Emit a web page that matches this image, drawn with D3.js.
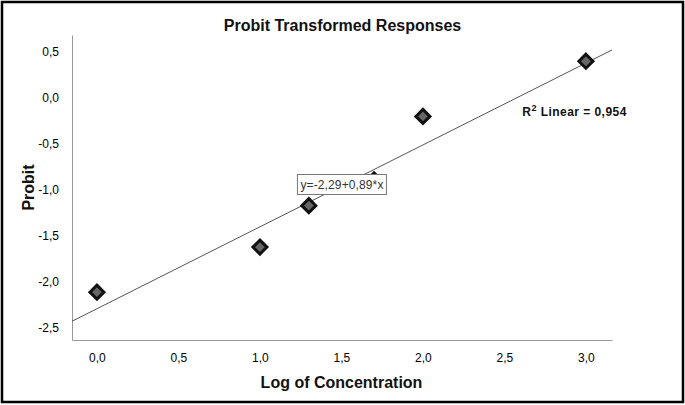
<!DOCTYPE html>
<html>
<head>
<meta charset="utf-8">
<script src="https://cdn.jsdelivr.net/npm/d3@7"></script>
<style>
  body { margin: 0; background: #fff; }
  svg { display: block; font-family: "Liberation Sans", Arial, sans-serif; }
</style>
</head>
<body>
<div id="chart"></div>
<script>
// log concentration vs probit
const logConc = [0.0, 1.0, 1.3, 1.7, 2.0, 3.0];
const probit = [-2.11, -1.62, -1.17, -0.89, -0.20, 0.40];
const xTicks = [0, 0.5, 1, 1.5, 2, 2.5, 3];
const yTicks = [0.5, 0, -0.5, -1, -1.5, -2, -2.5];
const fitIntercept = -2.29;
const fitSlope = 0.89;
const fitLabel = "y=-2,29+0,89*x";
const r2 = "0,954";

const width = 685, height = 405;
const margin = { top: 35, right: 73, bottom: 65, left: 72 };

const fmt = v => d3.format(".1f")(v).replace(".", ",").replace("\u2212", "-");

const svg = d3.select("#chart").append("svg")
    .attr("width", width)
    .attr("height", height);

// outer frame
svg.append("rect")
    .attr("x", 2).attr("y", 2)
    .attr("width", width - 4).attr("height", height - 5)
    .attr("fill", "none")
    .attr("stroke", "#000")
    .attr("stroke-width", 2.5);

let x = d3.scaleLinear()
    .domain([-0.153, 3.16])
    .range([margin.left, width - margin.right]);

let y = d3.scaleLinear()
    .domain([-2.63, 0.685])
    .range([height - margin.bottom, margin.top]);

let xAxis = g => g
    .attr("transform", `translate(0,${height - margin.bottom})`)
    .call(d3.axisBottom(x).tickValues(xTicks).tickFormat(fmt).tickSize(0).tickPadding(13))
    .call(g => g.select(".domain").attr("stroke", "#999"))
    .attr("font-size", 12)
    .attr("font-family", null)
    .call(g => g.selectAll("text").attr("fill", "#000"));

let yAxis = g => g
    .attr("transform", `translate(${margin.left},0)`)
    .call(d3.axisLeft(y).tickValues(yTicks).tickFormat(fmt).tickSize(0).tickPadding(13))
    .call(g => g.select(".domain").attr("stroke", "#999"))
    .attr("font-size", 12)
    .attr("font-family", null)
    .call(g => g.selectAll("text").attr("fill", "#000"));

svg.append("g").call(xAxis);
svg.append("g").call(yAxis);

// fit line across the plot width
const [x0, x1] = x.domain();
svg.append("line")
    .attr("x1", x(x0)).attr("y1", y(fitIntercept + fitSlope * x0))
    .attr("x2", x(x1)).attr("y2", y(fitIntercept + fitSlope * x1))
    .attr("stroke", "#555")
    .attr("stroke-width", 1);

// diamonds
svg.append("g")
    .selectAll("path")
    .data(logConc)
    .join("path")
    .attr("transform", (d, i) => `translate(${x(d)},${y(probit[i])})`)
    .attr("d", "M0,-7L7,0L0,7L-7,0Z")
    .attr("fill", "#666")
    .attr("stroke", "#111")
    .attr("stroke-width", 3);

// equation label
const eq = svg.append("g")
    .attr("transform", `translate(${x(1.23)},${y(-0.94)})`);
eq.append("rect")
    .attr("x", 0).attr("y", -10)
    .attr("width", 89).attr("height", 20)
    .attr("fill", "#fff")
    .attr("stroke", "#777");
eq.append("text")
    .attr("x", 3).attr("y", 0)
    .attr("dy", "0.35em")
    .attr("font-size", 12)
    .attr("fill", "#333")
    .attr("textLength", 83)
    .text(fitLabel);

// R² label
const r2Text = svg.append("text")
    .attr("x", x(2.61))
    .attr("y", y(-0.2))
    .attr("font-size", 12)
    .attr("font-weight", "bold")
    .attr("fill", "#111")
    .attr("textLength", 104);
r2Text.append("tspan").text("R");
r2Text.append("tspan").attr("dy", -5).attr("font-size", 9).text("2");
r2Text.append("tspan").attr("dy", 5).text(` Linear = ${r2}`);

// titles
svg.append("text")
    .attr("x", width / 2)
    .attr("y", 31)
    .attr("text-anchor", "middle")
    .attr("font-size", 16)
    .attr("font-weight", "bold")
    .attr("fill", "#111")
    .text("Probit Transformed Responses");

svg.append("text")
    .attr("x", width / 2 - 1)
    .attr("y", 388)
    .attr("text-anchor", "middle")
    .attr("font-size", 16)
    .attr("font-weight", "bold")
    .attr("fill", "#111")
    .text("Log of Concentration");

svg.append("text")
    .attr("transform", `translate(34,${(margin.top + height - margin.bottom) / 2}) rotate(-90)`)
    .attr("text-anchor", "middle")
    .attr("font-size", 16)
    .attr("font-weight", "bold")
    .attr("fill", "#111")
    .text("Probit");
</script>
</body>
</html>
